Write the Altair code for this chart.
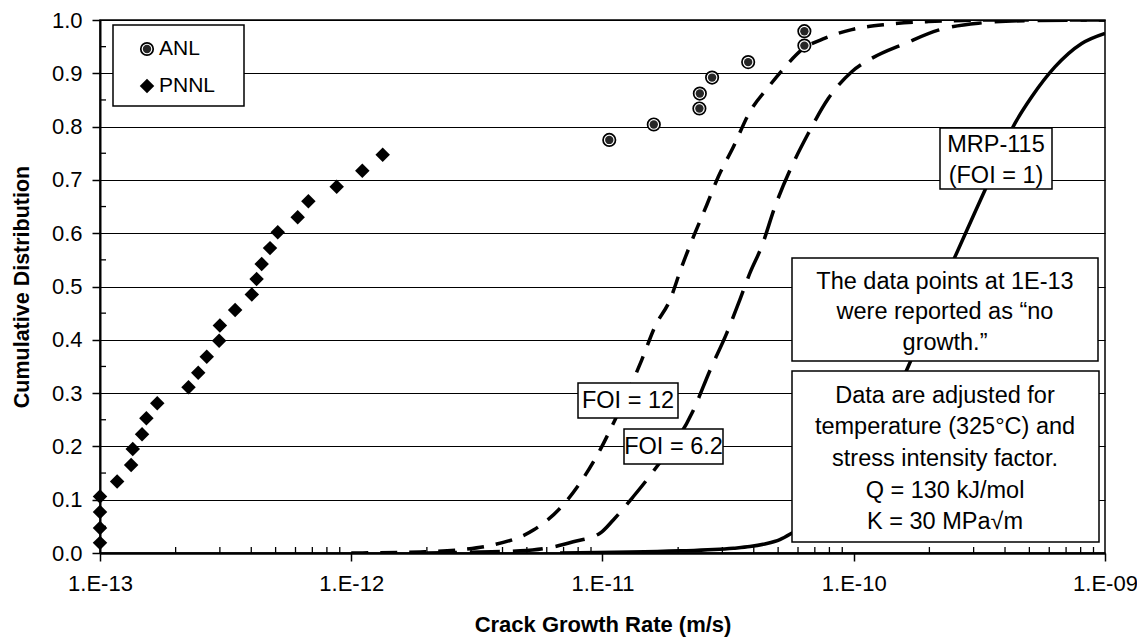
import altair as alt
import pandas as pd

FONT = "Liberation Sans"

# ---------------- data ----------------
pnnl_rate = [1.0e-13, 1.0e-13, 1.0e-13, 1.0e-13, 1.17e-13, 1.33e-13, 1.35e-13, 1.47e-13,
             1.53e-13, 1.69e-13, 2.25e-13, 2.46e-13, 2.66e-13, 2.98e-13, 3.0e-13, 3.45e-13,
             4.02e-13, 4.2e-13, 4.4e-13, 4.75e-13, 5.1e-13, 6.12e-13, 6.75e-13, 8.75e-13,
             1.107e-12, 1.334e-12]
pnnl_cdf = [0.019, 0.047, 0.077, 0.106, 0.134, 0.165, 0.195, 0.223,
            0.253, 0.281, 0.311, 0.338, 0.368, 0.398, 0.427, 0.456,
            0.485, 0.514, 0.542, 0.572, 0.602, 0.630, 0.660, 0.687,
            0.717, 0.747]

anl_rate = [1.064e-11, 1.60e-11, 2.43e-11, 2.44e-11, 2.73e-11, 3.80e-11, 6.36e-11, 6.36e-11]
anl_cdf = [0.775, 0.804, 0.834, 0.862, 0.892, 0.921, 0.952, 0.979]

foi12_rate = [1.0e-12, 1.88e-12, 2.71e-12, 3.66e-12, 5.31e-12, 6.78e-12, 8.13e-12, 9.77e-12,
              1.104e-11, 1.432e-11, 1.618e-11, 1.857e-11, 2.067e-11, 2.30e-11, 2.60e-11,
              2.89e-11, 3.32e-11, 3.80e-11, 4.64e-11, 5.33e-11, 6.21e-11, 7.69e-11, 9.82e-11,
              1.374e-10, 1.98e-10, 3.82e-10, 1.0e-9]
foi12_cdf = [0.0, 0.002, 0.006, 0.015, 0.043, 0.084, 0.131, 0.193,
             0.243, 0.362, 0.425, 0.475, 0.537, 0.593, 0.653,
             0.706, 0.762, 0.822, 0.878, 0.912, 0.944, 0.966, 0.982,
             0.992, 0.997, 1.0, 1.0]

foi62_rate = [2.0e-12, 3.25e-12, 4.70e-12, 6.0e-12, 7.65e-12, 9.77e-12, 1.104e-11, 1.327e-11,
              1.592e-11, 2.30e-11, 2.68e-11, 3.12e-11, 3.52e-11, 3.86e-11, 4.30e-11, 4.86e-11,
              5.66e-11, 6.59e-11, 7.93e-11, 9.82e-11, 1.178e-10, 1.60e-10, 2.17e-10, 3.13e-10,
              5.11e-10, 1.0e-9]
foi62_cdf = [0.0, 0.002, 0.004, 0.009, 0.021, 0.037, 0.062, 0.106,
             0.153, 0.268, 0.343, 0.412, 0.475, 0.525, 0.575, 0.650,
             0.725, 0.787, 0.853, 0.903, 0.928, 0.956, 0.981, 0.994,
             0.999, 1.0]

mrp_rate = [6.78e-12, 2.03e-11, 3.32e-11, 3.86e-11, 4.43e-11, 5.08e-11, 5.66e-11, 7.34e-11,
            9.66e-11, 1.271e-10, 1.648e-10, 2.53e-10, 3.33e-10, 4.38e-10, 5.11e-10,
            6.32e-10, 8.08e-10, 1.0e-9]
mrp_cdf = [0.0, 0.004, 0.009, 0.012, 0.017, 0.025, 0.037, 0.074,
           0.139, 0.234, 0.350, 0.556, 0.681, 0.806, 0.856,
           0.912, 0.956, 0.975]

x_major = [1e-13, 1e-12, 1e-11, 1e-10, 1e-9]
x_minor = [m * 10.0 ** e for e in (-13, -12, -11, -10) for m in range(2, 10)]
y_major = [0.0, 0.1, 0.2, 0.3, 0.4, 0.5, 0.6, 0.7, 0.8, 0.9, 1.0]
y_minor = [0.05, 0.15, 0.25, 0.35, 0.45, 0.55, 0.65, 0.75, 0.85, 0.95]

# ---------------- scales / axes ----------------
x_scale = alt.Scale(type="log", domain=[1e-13, 1e-9])
y_scale = alt.Scale(domain=[0, 1])

x_axis = alt.Axis(
    values=x_major,
    labelExpr="'1.E-' + (round(log(datum.value)/LN10) > -10 ? '0' : '') + (-round(log(datum.value)/LN10))",
    title="Crack Growth Rate (m/s)", grid=False,
    tickSize=8, tickWidth=1.5, tickColor="black",
    domainColor="black", domainWidth=2.5,
    labelFont=FONT, labelFontSize=22, labelColor="black", labelPadding=12,
    labelFlush=False, labelOverlap=False,
    titleFont=FONT, titleFontSize=22, titleFontWeight="bold", titleColor="black",
    titleBaseline="alphabetic", titleY=78,
)
y_axis = alt.Axis(
    values=y_major, format=".1f", title="Cumulative Distribution",
    grid=True, gridColor="black", gridWidth=1.2, gridOpacity=1,
    tickSize=8, tickWidth=1.5, tickColor="black",
    domainColor="black", domainWidth=2,
    labelFont=FONT, labelFontSize=22, labelColor="black", labelPadding=10,
    labelOverlap=False,
    titleFont=FONT, titleFontSize=21.5, titleFontWeight="bold", titleColor="black",
    titleX=-78, titleY=266.5, titleAlign="center", titleBaseline="middle", titleAngle=-90,
)

X = lambda: alt.X("x:Q", scale=x_scale, axis=x_axis)
Y = lambda: alt.Y("y:Q", scale=y_scale, axis=y_axis)


def series(rates, vals):
    return pd.DataFrame({"x": rates, "y": vals})


one = pd.DataFrame({"k": [0]})

# base layer (carries the axes)
base = alt.Chart(series(pnnl_rate, pnnl_cdf)).mark_point(opacity=0).encode(x=X(), y=Y())

x_minor_ticks = alt.Chart(pd.DataFrame({"x": x_minor})).mark_rule(
    color="black", strokeWidth=1.3
).encode(x=X(), y=alt.value(533), y2=alt.value(527))

y_minor_ticks = alt.Chart(pd.DataFrame({"y": y_minor})).mark_rule(
    color="black", strokeWidth=1.3
).encode(y=Y(), x=alt.value(0), x2=alt.value(6))

line_mrp = alt.Chart(series(mrp_rate, mrp_cdf)).mark_line(
    color="black", strokeWidth=3.5, interpolate="monotone", clip=True
).encode(x=X(), y=Y())
line_62 = alt.Chart(series(foi62_rate, foi62_cdf)).mark_line(
    color="black", strokeWidth=3.5, strokeDash=[30, 13], interpolate="monotone", clip=True
).encode(x=X(), y=Y())
line_12 = alt.Chart(series(foi12_rate, foi12_cdf)).mark_line(
    color="black", strokeWidth=3.5, strokeDash=[17, 12], interpolate="monotone", clip=True
).encode(x=X(), y=Y())

pnnl = alt.Chart(series(pnnl_rate, pnnl_cdf)).mark_point(
    shape="diamond", filled=True, size=210, color="black", opacity=1
).encode(x=X(), y=Y())

anl_df = series(anl_rate, anl_cdf)
anl_outer = alt.Chart(anl_df).mark_circle(size=200, color="black", opacity=1).encode(x=X(), y=Y())
anl_ring = alt.Chart(anl_df).mark_circle(size=115, color="white", opacity=1).encode(x=X(), y=Y())
anl_inner = alt.Chart(anl_df).mark_circle(size=70, color="#262626", opacity=1).encode(x=X(), y=Y())


def box(x1, x2, y1, y2):
    return alt.Chart(one).mark_rect(fill="white", stroke="black", strokeWidth=1.5).encode(
        x=alt.value(x1), x2=alt.value(x2), y=alt.value(y1), y2=alt.value(y2))


def label(txt, x, y, size=23.5, align="center"):
    return alt.Chart(one).mark_text(
        text=txt, font=FONT, fontSize=size, align=align, baseline="middle", color="black"
    ).encode(x=alt.value(x), y=alt.value(y))


def sym_circle(x, y):
    return [alt.Chart(one).mark_circle(size=s, color=c, opacity=1).encode(x=alt.value(x), y=alt.value(y))
            for s, c in ((200, "black"), (115, "white"), (70, "#262626"))]


annotations = [
    # legend
    box(13, 144, 5, 86),
    *sym_circle(47, 29),
    alt.Chart(one).mark_point(shape="diamond", filled=True, size=210, color="black", opacity=1).encode(
        x=alt.value(47), y=alt.value(66)),
    label("ANL", 59, 29, size=21, align="left"),
    label("PNNL", 59, 66, size=21, align="left"),
    # FOI labels
    box(478, 578, 363, 398), label("FOI = 12", 528, 381),
    box(524, 623, 409, 444), label("FOI = 6.2", 573.5, 427),
    # MRP-115
    box(840, 952, 108, 169), label("MRP-115", 896, 125), label("(FOI = 1)", 896, 156),
    # notes
    box(692, 998, 238, 341),
    label("The data points at 1E-13", 845, 262),
    label("were reported as \u201cno", 845, 292),
    label("growth.\u201d", 845, 323),
    box(692, 999, 351, 522),
    label("Data are adjusted for", 845, 376),
    label("temperature (325\u00b0C) and", 845, 407),
    label("stress intensity factor.", 845, 439),
    label("Q = 130 kJ/mol", 845, 471),
    label("K = 30 MPa\u221am", 845, 502),
]

chart = alt.layer(
    base, x_minor_ticks, y_minor_ticks,
    line_mrp, line_62, line_12,
    pnnl, anl_outer, anl_ring, anl_inner,
    *annotations,
).properties(
    width=1005, height=533,
    autosize=alt.AutoSizeParams(type="none"),
    padding={"left": 92, "top": 12, "right": 32, "bottom": 84},
).configure(font=FONT, background="white").configure_view(stroke="black", strokeWidth=1.5)

chart.save("out.html", embed_options={"renderer": "svg", "actions": False})
